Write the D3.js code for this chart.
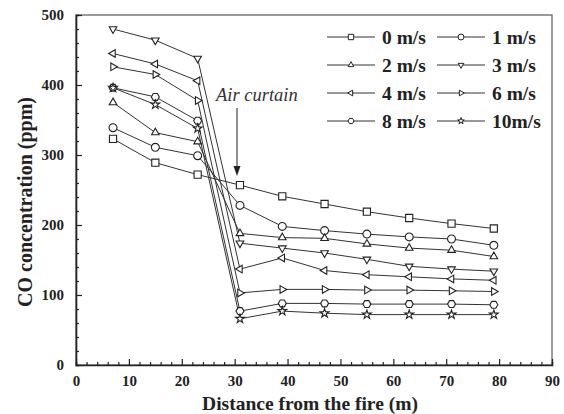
<!DOCTYPE html>
<html>
<head>
<meta charset="utf-8">
<script src="https://cdn.jsdelivr.net/npm/d3@7"></script>
<style>
  body { margin: 0; background: #fff; }
  text { font-family: "Liberation Serif", "Times New Roman", serif; }
</style>
</head>
<body>
<svg></svg>
<script>
// data
const distances = [7, 15, 23, 31, 39, 47, 55, 63, 71, 79];
const speedLabels = ['0 m/s', '1 m/s', '2 m/s', '3 m/s', '4 m/s', '6 m/s', '8 m/s', '10m/s'];
const co0  = [323, 289, 272, 257, 241, 230, 219, 210, 202, 195];
const co1  = [339, 311, 299, 228, 198, 192, 187, 183, 180, 171];
const co2  = [375, 332, 319, 188, 182, 181, 173, 167, 164, 155];
const co3  = [480, 464, 438, 174, 167, 160, 151, 141, 137, 134];
const co4  = [445, 430, 406, 137, 153, 135, 129, 126, 123, 121];
const co6  = [426, 415, 378, 103, 108, 108, 107, 107, 106, 105];
const co8  = [396, 383, 349, 77, 88, 88, 87, 87, 87, 86];
const co10 = [396, 372, 338, 66, 77, 74, 72, 72, 72, 72];
const xTicks = [0, 10, 20, 30, 40, 50, 60, 70, 80, 90];
const yTicks = [0, 100, 200, 300, 400, 500];

const series = [co0, co1, co2, co3, co4, co6, co8, co10];
const markers = ['square', 'circle', 'up', 'down', 'left', 'right', 'hex', 'star'];

const size = {w: 564, h: 414};
const margin = {t: 15, r: 12, b: 49, l: 76};

const svg = d3.select('svg')
    .attr('width', size.w)
    .attr('height', size.h);

const x = d3.scaleLinear().domain([0, 90]).range([margin.l, size.w - margin.r]);
const y = d3.scaleLinear().domain([0, 500]).range([size.h - margin.b, margin.t]);

// marker path for a given shape, centred at 0,0
function markerPath(kind, r) {
    if (kind === 'square') return d3.symbol(d3.symbolSquare, r * r * 3.2)();
    if (kind === 'circle') return d3.symbol(d3.symbolCircle, r * r * 3.1)();
    if (kind === 'star') return d3.symbol(d3.symbolStar, r * r * 1.5)();
    if (kind === 'hex') {
        const pts = d3.range(6).map(i => {
            const a = Math.PI / 3 * i;
            return [r * Math.cos(a), r * Math.sin(a)];
        });
        return 'M' + pts.join('L') + 'Z';
    }
    // triangles
    const rot = {up: -90, down: 90, left: 180, right: 0}[kind];
    const pts = [0, 120, 240].map(a => {
        const t = (a + rot) * Math.PI / 180;
        return [r * 1.1 * Math.cos(t), r * 1.1 * Math.sin(t)];
    });
    return 'M' + pts.join('L') + 'Z';
}

// frame (top and right lines)
svg.append('rect')
    .attr('x', x(0)).attr('y', y(500))
    .attr('width', x(90) - x(0)).attr('height', y(0) - y(500))
    .attr('fill', 'none').attr('stroke', '#666').attr('stroke-width', 1.3);

// x axis, ticks pointing inward
const xAxis = d3.axisBottom(x)
    .tickValues(d3.range(0, 91, 2))
    .tickSize(-3)
    .tickFormat(d => xTicks.includes(d) ? d : '');
const gx = svg.append('g')
    .attr('transform', `translate(0,${y(0)})`)
    .call(xAxis);
gx.selectAll('.tick line')
    .attr('y2', d => d % 10 === 0 ? -6 : -3);

const yAxis = d3.axisLeft(y)
    .tickValues(d3.range(0, 501, 20))
    .tickSize(-3)
    .tickFormat(d => yTicks.includes(d) ? d : '');
const gy = svg.append('g')
    .attr('transform', `translate(${x(0)},0)`)
    .call(yAxis);
gy.selectAll('.tick line')
    .attr('x2', d => d % 100 === 0 ? 6 : 3);

[gx, gy].forEach(g => {
    g.select('.domain').attr('stroke', '#222').attr('stroke-width', 1.6);
    g.selectAll('.tick line').attr('stroke', '#222').attr('stroke-width', 1.2);
    g.selectAll('.tick text')
        .style('font-family', '"Liberation Serif", serif')
        .style('font-weight', 'bold')
        .style('font-size', '15px')
        .attr('fill', '#222');
});
gx.selectAll('.tick text').attr('y', 10);
gy.selectAll('.tick text').attr('x', -12);

// axis titles
svg.append('text')
    .attr('x', (x(0) + x(90)) / 2 - 4)
    .attr('y', 410)
    .attr('text-anchor', 'middle')
    .style('font-weight', 'bold')
    .style('font-size', '19.5px')
    .attr('fill', '#222')
    .text('Distance from the fire (m)');

svg.append('text')
    .attr('transform', 'translate(32,202) rotate(-90)')
    .attr('text-anchor', 'middle')
    .style('font-weight', 'bold')
    .style('font-size', '20px')
    .attr('fill', '#222')
    .text('CO concentration (ppm)');

// lines and markers
const line = d3.line()
    .x((d, i) => x(distances[i]))
    .y(d => y(d));

const linesG = svg.append('g').classed('lines', true);
linesG.selectAll('path')
    .data(series)
    .join('path')
    .attr('d', line)
    .attr('fill', 'none')
    .attr('stroke', '#333')
    .attr('stroke-width', 1);

const pointsG = svg.append('g').classed('points', true);
series.forEach((vals, s) => {
    pointsG.append('g')
        .selectAll('path')
        .data(vals)
        .join('path')
        .attr('transform', (d, i) => `translate(${x(distances[i])},${y(d)})`)
        .attr('d', markerPath(markers[s], 4))
        .attr('fill', '#fff')
        .attr('stroke', '#222')
        .attr('stroke-width', 1.1);
});

// annotation
svg.append('text')
    .attr('x', 216)
    .attr('y', 101)
    .style('font-style', 'italic')
    .style('font-size', '18.5px')
    .attr('fill', '#333')
    .text('Air curtain');

svg.append('line')
    .attr('x1', 237).attr('y1', 108)
    .attr('x2', 237).attr('y2', 168)
    .attr('stroke', '#222').attr('stroke-width', 1);
svg.append('path')
    .attr('d', 'M233.5,166 L240.5,166 L237,176 Z')
    .attr('fill', '#222');

// legend
const legend = svg.append('g').classed('legend', true);
speedLabels.forEach((lab, i) => {
    const col = i % 2, row = Math.floor(i / 2);
    const lx = 327 + col * 110, ly = 37 + row * 28;
    const g = legend.append('g').attr('transform', `translate(${lx},${ly})`);
    g.append('line')
        .attr('x1', 0).attr('x2', 48)
        .attr('stroke', '#333').attr('stroke-width', 1);
    g.append('path')
        .attr('transform', 'translate(24,0)')
        .attr('d', markerPath(markers[i], 3))
        .attr('fill', '#fff').attr('stroke', '#222').attr('stroke-width', 1);
    g.append('text')
        .attr('x', 55).attr('y', 6.5)
        .style('font-weight', 'bold')
        .style('font-size', '19.5px')
        .attr('fill', '#222')
        .text(lab);
});
</script>
</body>
</html>
